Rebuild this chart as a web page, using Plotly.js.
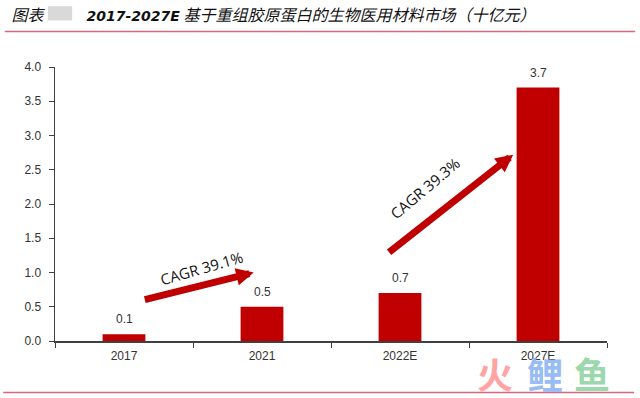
<!DOCTYPE html>
<html>
<head>
<meta charset="utf-8">
<script src="https://cdn.plot.ly/plotly-3.0.1.min.js"></script>
<style>html,body{margin:0;padding:0;background:#fff;}#chart{width:640px;height:398px;}</style>
</head>
<body>
<div id="chart"></div>
<script>
const categories = ["2017", "2021", "2022E", "2027E"];
const values = [0.1, 0.5, 0.7, 3.7];
const cagrLabels = ["CAGR 39.1%", "CAGR 39.3%"];
// arrow tails / heads in data units (category index, value)
const arrowTailX = [0.14, 1.91];
const arrowTailY = [0.60, 1.28];
const arrowHeadX = [0.94, 2.82];
const arrowHeadY = [1.00, 2.72];
const labelX = [0.56, 2.18];
const labelY = [1.07, 2.24];
const labelAngle = [-16, -40];

const RED = "#C00000";
const txtFont = {family: "Liberation Sans, Arial, sans-serif", size: 12, color: "#333333"};

const trace = {
  type: "bar",
  x: categories,
  y: values,
  width: 0.31,
  marker: {color: RED},
  hoverinfo: "skip"
};

const annotations = [];
// value labels
categories.forEach((c, i) => annotations.push({
  x: i, y: values[i], xref: "x", yref: "y", text: values[i].toFixed(1),
  showarrow: false, yanchor: "middle", xanchor: "center", yshift: 15, font: txtFont
}));
for (let i = 0; i < 2; i++) {
  annotations.push({
    x: arrowHeadX[i], y: arrowHeadY[i], xref: "x", yref: "y",
    ax: arrowTailX[i], ay: arrowTailY[i], axref: "x", ayref: "y",
    showarrow: true, arrowhead: 2, arrowsize: 0.5, arrowwidth: 7,
    arrowcolor: RED, text: "", standoff: 0, startstandoff: 0
  });
  annotations.push({
    x: labelX[i], y: labelY[i], xref: "x", yref: "y",
    text: cagrLabels[i], showarrow: false, textangle: labelAngle[i],
    font: {family: "Open Sans, sans-serif", size: 15, color: "#111111"},
    xanchor: "center", yanchor: "middle"
  });
}
// watermark
const wm = [["火", "#FF9A9A", 0.797], ["鲤", "#8DB5F5", 0.888], ["鱼", "#92D3A6", 0.973]];
wm.forEach(w => annotations.push({
  x: w[2], y: -0.117, xref: "paper", yref: "paper", showarrow: false,
  text: "<b>" + w[0] + "</b>", font: {family: "Noto Sans CJK SC", size: 36, color: w[1]},
  xanchor: "center", yanchor: "middle", opacity: 0.9
}));

const layout = {
  width: 640, height: 398,
  margin: {l: 55, r: 33, t: 67, b: 57},
  paper_bgcolor: "#ffffff", plot_bgcolor: "#ffffff",
  showlegend: false,
  title: {
    text: "<i>图表</i>            <b><i><span style=\"font-family:'DejaVu Sans';font-size:14px\">2017-2027E</span></i></b><i> 基于重组胶原蛋白的生物医用材料市场（十亿元）</i>",
    font: {family: "Noto Sans CJK SC, sans-serif", size: 16, color: "#111111"},
    xref: "container", yref: "container", x: 0.018, xanchor: "left", y: 0.962, yanchor: "middle"
  },
  xaxis: {
    type: "category", range: [-0.5, 3.5], showgrid: false, showline: true, linecolor: "#404040", linewidth: 1.5,
    ticks: "outside", tickson: "boundaries", ticklen: 5, tickcolor: "#404040",
    tickfont: txtFont, zeroline: false, fixedrange: true, ticklabelstandoff: 3
  },
  yaxis: {
    range: [0, 4], dtick: 0.5, tickformat: ".1f", showgrid: false, zeroline: false,
    showline: true, linecolor: "#404040", linewidth: 1.5,
    ticks: "outside", ticklen: 5, tickcolor: "#404040", tickfont: txtFont, fixedrange: true,
    ticklabelstandoff: 5
  },
  shapes: [
    {type: "line", xref: "paper", yref: "paper", x0: -0.091, x1: 1.051, y0: 1.13, y1: 1.13,
     line: {color: "#D9667F", width: 1.5}},
    {type: "line", xref: "paper", yref: "paper", x0: -0.094, x1: 1.049, y0: -0.188, y1: -0.188,
     line: {color: "#D9667F", width: 1.5}},
    {type: "rect", xref: "paper", yref: "paper", x0: -0.013, x1: 0.031, y0: 1.17, y1: 1.222,
     fillcolor: "#CFCFCF", line: {width: 0}, opacity: 0.8}
  ],
  annotations: annotations
};

Plotly.newPlot("chart", [trace], layout, {displayModeBar: false, staticPlot: true});
</script>
</body>
</html>
